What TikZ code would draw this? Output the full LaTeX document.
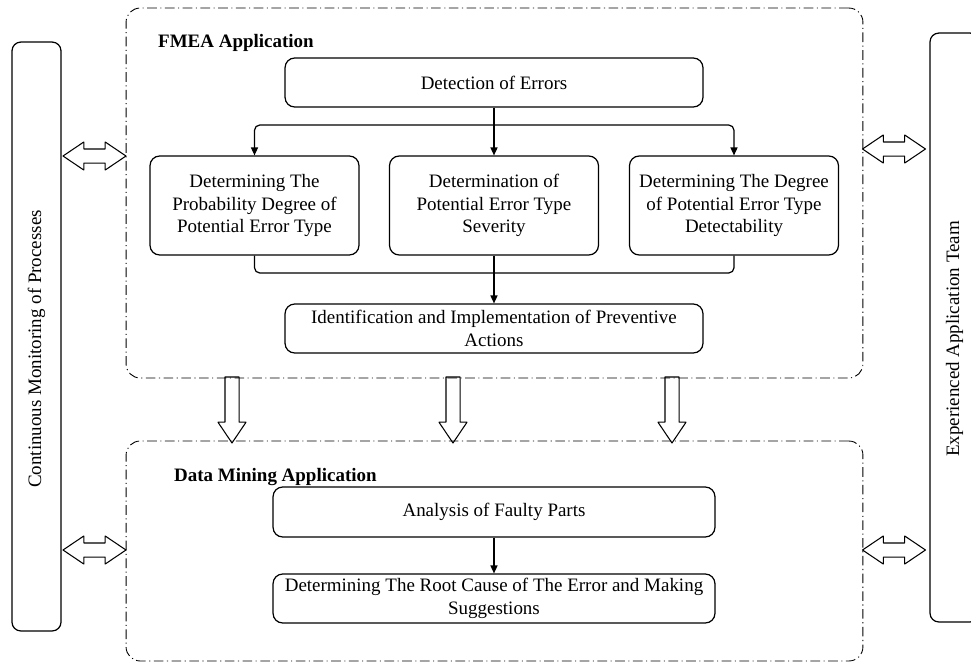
\documentclass[tikz,border=0pt]{standalone}
\usepackage{fontspec}
\setmainfont{Liberation Serif}
\usetikzlibrary{positioning,arrows.meta,shapes.arrows}
\tikzset{
chart/.style={
    x=0.02cm,
    y=-0.02cm,
    line join=round,
    font=\fontsize{10.8}{12.8}\selectfont
},
proc/.style={
    draw,
    rounded corners=5.5pt,
    line width=0.7pt,
    align=center,
    inner sep=0pt
},
panel/.style={
    draw,
    rounded corners=8pt,
    line width=0.5pt,
    dash pattern=on 5.5pt off 2pt on 0.6pt off 2pt,
    minimum width=14.74cm,
    inner sep=0pt
},
side/.style={
    draw,
    rounded corners=5pt,
    line width=0.7pt,
    minimum width=0.98cm,
    minimum height=11.78cm,
    inner sep=0pt
},
heading/.style={
    anchor=west,
    font=\fontsize{10.8}{12.8}\selectfont\bfseries
},
flow/.style={
    -{Triangle[length=4.5pt,width=4pt]},
    line width=0.7pt,
    rounded corners=3pt
},
blockdown/.style={
    single arrow,
    draw,
    line width=0.6pt,
    rotate=-90,
    anchor=tail,
    inner xsep=0pt,
    inner ysep=0.13cm,
    outer sep=0pt,
    single arrow head extend=0.14cm,
    single arrow tip angle=68,
    minimum height=1.32cm
},
blockboth/.style={
    double arrow,
    draw,
    line width=0.6pt,
    inner xsep=0pt,
    inner ysep=0.13cm,
    outer sep=0pt,
    double arrow head extend=0.14cm,
    double arrow tip angle=68,
    minimum height=1.26cm
}}

\begin{document}
\begin{tikzpicture}[chart]
\useasboundingbox (0,0) rectangle (971,664);
\clip (0,0) rectangle (971,664);

\node[panel, minimum height=7.4cm]    (fmea)    at (494.5,193)    {};
\node[panel, minimum height=4.4cm]    (dm)      at (494.5,551)    {};
\node[heading]    (fmeat)    at (152,43)     {FMEA Application};
\node[heading]    (dmt)      at (168,477)    {Data Mining Application};

\node[proc, minimum width=8.36cm, minimum height=0.98cm]    (det)     at (494,82.5)     {Detection of Errors};
\node[proc, minimum width=4.18cm, minimum height=1.98cm]    (prob)    at (254.5,205.5)  {Determining The\\Probability Degree of\\Potential Error Type};
\node[proc, minimum width=4.18cm, minimum height=1.98cm]    (sev)     at (494,205.5)    {Determination of\\Potential Error Type\\Severity};
\node[proc, minimum width=4.18cm, minimum height=1.98cm]    (dtc)     at (734,205.5)    {Determining The Degree\\of Potential Error Type\\Detectability};
\node[proc, minimum width=8.36cm, minimum height=0.98cm]    (prev)    at (494,328.5)    {Identification and Implementation of Preventive\\Actions};
\node[proc, minimum width=8.84cm, minimum height=1cm]       (anl)     at (494,512)      {Analysis of Faulty Parts};
\node[proc, minimum width=8.84cm, minimum height=0.98cm]    (root)    at (494,598.5)    {Determining The Root Cause of The Error and Making\\Suggestions};

\node[side]    (mon)     at (36.5,336.5)    {};
\node[side]    (team)    at (954.5,327.5)   {};
\node[rotate=90]    (monl)     at (36.5,349)     {Continuous Monitoring of Processes};
\node[rotate=90]    (teaml)    at (954.5,339)    {Experienced Application Team};

\coordinate    (split)    at (494,125);
\coordinate    (merge)    at (494,273);

\draw[line width=0.7pt]    (det)    -- (split);
\draw[flow]    (split)    -| (prob);
\draw[flow]    (split)    -- (sev);
\draw[flow]    (split)    -| (dtc);
\draw[line width=0.7pt, rounded corners=3pt]    (prob)    |- (merge);
\draw[line width=0.7pt, rounded corners=3pt]    (dtc)     |- (merge);
\draw[line width=0.7pt]    (sev)    -- (merge);
\draw[flow]    (merge)    -- (prev);
\draw[flow]    (anl)    -- (root);

\node[blockdown]    (d1)    at (232,377)    {};
\node[blockdown]    (d2)    at (453,377)    {};
\node[blockdown]    (d3)    at (672,377)    {};

\node[blockboth]    (l1)    at (94.5,156)    {};
\node[blockboth]    (l2)    at (94.5,550)    {};
\node[blockboth]    (r1)    at (894,149)     {};
\node[blockboth]    (r2)    at (894,550)     {};
\end{tikzpicture}
\end{document}
